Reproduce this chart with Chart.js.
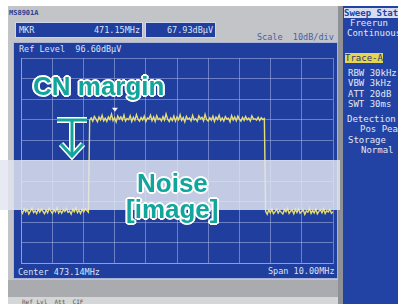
<!DOCTYPE html>
<html>
<head>
<meta charset="utf-8">
<script src="https://cdn.jsdelivr.net/npm/chart.js@4.4.0/dist/chart.umd.min.js"></script>
<style>
body { margin: 0; width: 398px; height: 304px; overflow: hidden; background: #fff; position: relative; font-family: "DejaVu Sans Mono", monospace; }
.abs { position: absolute; white-space: nowrap; }
#frame { left: 8px; top: 6px; width: 335px; height: 298px; background: #c2c4c7; }
#frameLow { left: 8px; top: 280px; width: 330px; height: 17px; background: #a9abae; }
#tabs { left: 8px; top: 297px; width: 330px; height: 7px; background: #d4d6d8; font-size: 6px; color: #555; line-height: 9px; padding-left: 14px; box-sizing: border-box; }
#sep { left: 338px; top: 6px; width: 5px; height: 298px; background: #8e9196; }
#panel { left: 343px; top: 6px; width: 55px; height: 298px; background: #2243a3; }
#screen { left: 13px; top: 42px; width: 323px; height: 235px; background: #1f3e9e; border: 1px solid #aab4d8; }
.box { background: #1f3e9e; border: 1px solid #cfd5ea; height: 14px; top: 22px; }
.scr { color: #dde2f2; font-size: 8.5px; line-height: 10px; }
.pan { color: #e2e7f6; font-size: 9px; line-height: 10px; left: 347px; }
#band { left: 0; top: 160px; width: 340px; height: 50px; background: rgba(226,229,241,0.84); }
.note { font-family: "Liberation Sans", Arial, sans-serif; font-weight: bold; font-size: 26px; line-height: 30px; color: #12a59c;
  text-shadow: 2px 0 0 #fff, -2px 0 0 #fff, 0 2px 0 #fff, 0 -2px 0 #fff, 1.4px 1.4px 0 #fff, -1.4px -1.4px 0 #fff, 1.4px -1.4px 0 #fff, -1.4px 1.4px 0 #fff; }
canvas { position: absolute; left: 0; top: 0; }
svg { position: absolute; left: 0; top: 0; }
</style>
</head>
<body>
<div class="abs" id="frame"></div>
<div class="abs" id="frameLow"></div>
<div class="abs" id="tabs">Ref Lvl&nbsp;&nbsp;Att&nbsp;&nbsp;CIF</div>
<div class="abs" id="sep"></div>
<div class="abs" id="panel"></div>
<div class="abs" id="screen"></div>

<div class="abs" style="left:9px;top:9px;font-size:7px;color:#2a3f8f;font-weight:bold;">MS8901A</div>
<div class="abs box" style="left:15px;width:126px;"></div>
<div class="abs box" style="left:145px;width:69px;"></div>
<div class="abs scr" style="left:19px;top:25px;">MKR</div>
<div class="abs scr" style="left:94px;top:25px;">471.15MHz</div>
<div class="abs scr" style="left:167px;top:25px;">67.93dBµV</div>
<div class="abs scr" style="left:257px;top:32px;color:#4a5ea6;">Scale&nbsp;&nbsp;10dB/div</div>
<div class="abs scr" style="left:19px;top:44px;">Ref Level&nbsp;&nbsp;96.60dBµV</div>
<div class="abs scr" style="left:18px;top:267px;">Center 473.14MHz</div>
<div class="abs scr" style="left:268px;top:266px;">Span 10.00MHz</div>

<div class="abs pan" style="left:344px;top:8px;width:54px;background:#d9ddf0;color:#2243a3;font-weight:bold;">Sweep Status</div>
<div class="abs pan" style="left:350px;top:18px;">Freerun</div>
<div class="abs pan" style="top:28px;">Continuous</div>
<div class="abs pan" style="left:345px;top:53px;background:#e6d553;color:#2a3470;">Trace-A</div>
<div class="abs pan" style="left:348px;top:68px;">RBW 30kHz</div>
<div class="abs pan" style="left:348px;top:78px;">VBW 3kHz</div>
<div class="abs pan" style="left:348px;top:89px;">ATT 20dB</div>
<div class="abs pan" style="left:348px;top:99px;">SWT 30ms</div>
<div class="abs pan" style="left:347px;top:114px;">Detection</div>
<div class="abs pan" style="left:360px;top:124px;">Pos Peak</div>
<div class="abs pan" style="left:348px;top:135px;">Storage</div>
<div class="abs pan" style="left:361px;top:145px;">Normal</div>

<canvas id="spectrum" width="398" height="304"></canvas>

<div class="abs" id="band"></div>
<div class="abs note" style="left:33px;top:71px;">CN margin</div>
<div class="abs note" style="left:137px;top:168px;">Noise</div>
<div class="abs note" style="left:126px;top:194px;">[image]</div>
<svg width="398" height="304">
  <g fill="none" stroke="#fff" stroke-width="6" stroke-linejoin="miter">
    <path d="M57 120 H87"/><path d="M72 120 V155"/><path d="M61 144 L72 156 L83 144"/>
  </g>
  <g fill="none" stroke="#12a59c" stroke-width="3" stroke-linejoin="miter">
    <path d="M57 120 H87"/><path d="M72 120 V155"/><path d="M61 144 L72 156 L83 144"/>
  </g>
</svg>

<script>
// MHz / dBuV, 10 dB/div
const xTicks = [468.14, 469.14, 470.14, 471.14, 472.14, 473.14, 474.14, 475.14, 476.14, 477.14, 478.14];
const yTicks = [-3.4, 6.6, 16.6, 26.6, 36.6, 46.6, 56.6, 66.6, 76.6, 86.6, 96.6];

const leftRange = [468.14, 470.30];
const channelRange = [470.34, 475.94];
const rightRange = [475.98, 478.14];

const noiseLeft = [22.4, 20.9, 23.1, 21.6, 22.8, 20.5, 21.9, 23.4, 21.2, 22.1, 20.7, 22.9, 21.4, 23.0, 21.8,
    20.6, 22.5, 21.1, 23.3, 22.0, 20.8, 22.7, 21.5, 23.6, 21.0, 22.3, 20.9, 22.6, 21.7, 23.2,
    21.3, 22.0, 20.4, 22.8, 21.6, 23.5, 21.2, 22.4, 20.8, 22.9, 21.5, 23.0, 22.2, 21.4];

const channelLevel = [66.2, 67.4, 65.8, 68.1, 66.9, 65.5, 67.8, 66.4, 68.6, 66.0, 67.2, 65.7, 67.9, 66.6, 69.2, 66.1, 67.5, 65.4, 68.3, 66.8,
    67.9, 66.3, 68.8, 65.9, 67.1, 66.5, 68.4, 65.6, 67.7, 66.2, 69.0, 66.7, 65.8, 67.6, 66.4, 68.2, 65.5, 67.3, 66.9, 68.7,
    66.0, 67.8, 65.7, 68.5, 66.6, 67.2, 65.9, 68.0, 66.3, 69.3, 66.8, 65.6, 67.4, 66.1, 68.3, 65.8, 67.9, 66.5, 68.9, 66.2,
    67.6, 65.4, 68.1, 66.7, 67.3, 65.9, 68.6, 66.4, 67.0, 65.7, 68.4, 66.9, 67.7, 66.0, 69.1, 66.5, 65.8, 67.5, 66.3, 68.2,
    65.6, 67.8, 66.6, 68.7, 66.1, 67.4, 65.9, 68.0, 66.8, 67.2, 65.5, 68.5, 66.4, 67.9, 66.0, 68.3, 66.7, 65.8, 67.6, 66.2,
    68.1, 66.5, 67.3, 65.9, 68.4, 66.8, 67.0, 66.3, 67.7, 66.1, 67.5, 66.6, 67.1];

const noiseRight = [21.8, 20.4, 22.6, 21.1, 22.9, 20.7, 21.5, 23.0, 20.9, 22.2, 21.3, 20.5, 22.7, 21.6, 23.2,
    20.8, 21.9, 22.4, 20.6, 22.8, 21.2, 23.1, 20.9, 21.7, 22.5, 20.3, 22.0, 21.4, 23.3, 20.8,
    22.3, 21.0, 22.9, 20.6, 21.8, 22.6, 21.1, 23.0, 20.7, 22.1, 21.5, 22.8, 20.9, 21.6];

const markerFreq = [471.15];
const markerLevel = [67.93];

const gridColor = 'rgba(170,182,228,0.55)';

// sweep points spread evenly over each segment
function sweep(levels, range) {
    return levels.map((v, i) => ({ x: range[0] + (range[1] - range[0]) * i / (levels.length - 1), y: v }));
}
const trace = [].concat(sweep(noiseLeft, leftRange), sweep(channelLevel, channelRange), sweep(noiseRight, rightRange));

const markerPlugin = {
    id: 'marker',
    afterDatasetsDraw(chart) {
        const ctx = chart.ctx;
        const x = chart.scales.x.getPixelForValue(markerFreq[0]);
        const y = chart.scales.y.getPixelForValue(markerLevel[0]) - 5;
        ctx.save();
        ctx.fillStyle = '#f4f4ff';
        ctx.beginPath();
        ctx.moveTo(x - 3, y - 4);
        ctx.lineTo(x + 3, y - 4);
        ctx.lineTo(x, y);
        ctx.closePath();
        ctx.fill();
        ctx.restore();
    }
};

new Chart(document.getElementById('spectrum'), {
    type: 'line',
    data: {
        datasets: [{
            data: trace,
            borderColor: '#e6dc78',
            borderWidth: 1.4,
            pointRadius: 0,
            tension: 0
        }]
    },
    options: {
        responsive: false,
        animation: false,
        devicePixelRatio: 1,
        layout: { padding: { left: 21, right: 65, top: 58, bottom: 41 } },
        plugins: { legend: { display: false }, tooltip: { enabled: false } },
        scales: {
            x: {
                type: 'linear',
                min: 468.14,
                max: 478.14,
                afterBuildTicks: (axis) => { axis.ticks = xTicks.map(v => ({ value: v })); },
                ticks: { display: false },
                grid: { color: gridColor, drawTicks: false },
                border: { color: gridColor }
            },
            y: {
                min: -3.4,
                max: 96.6,
                afterBuildTicks: (axis) => { axis.ticks = yTicks.map(v => ({ value: v })); },
                ticks: { display: false },
                grid: { color: gridColor, drawTicks: false },
                border: { color: gridColor }
            }
        }
    },
    plugins: [markerPlugin]
});
</script>
</body>
</html>
